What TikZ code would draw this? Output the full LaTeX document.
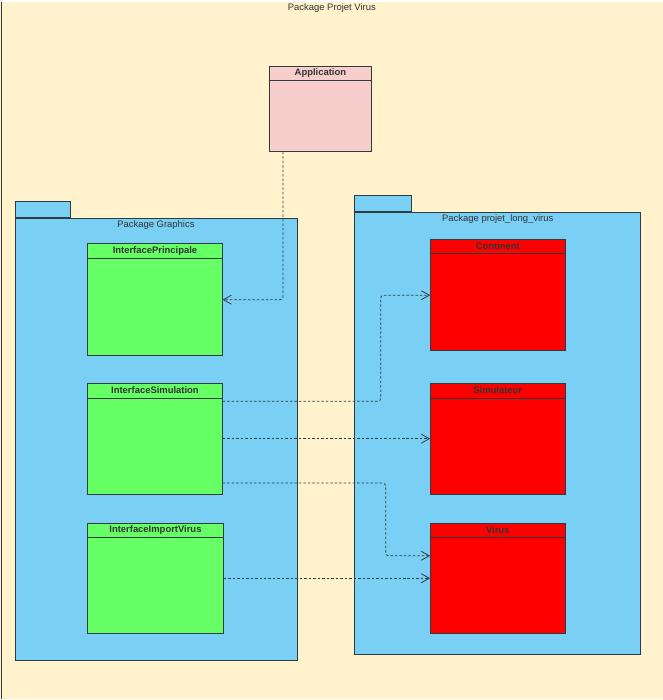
\documentclass[tikz,border=0pt]{standalone}
\usepackage{fontspec}
\setmainfont{Liberation Sans}
\usetikzlibrary{arrows.meta}

\definecolor{cream}{HTML}{FFF2CC}
\definecolor{pkgblue}{HTML}{7ACFF5}
\definecolor{clgreen}{HTML}{66FF66}
\definecolor{clred}{HTML}{FF0000}
\definecolor{clpink}{HTML}{F8CECC}
\definecolor{linegray}{HTML}{2E3B40}
\definecolor{textgray}{HTML}{333333}

\tikzset{
    classbox/.style={draw=linegray, line width=0.8bp, inner sep=0pt},
    classname/.style={font=\fontsize{9.5}{11}\selectfont\bfseries, text=textgray},
    pkgbox/.style={draw=linegray, line width=0.8bp, fill=pkgblue, inner sep=0pt},
    pkgname/.style={font=\fontsize{9.5}{11}\selectfont, text=textgray},
    dep/.style={draw=linegray, line width=0.8bp, dash pattern=on 2.5bp off 2bp,
        rounded corners=3bp, -{Straight Barb[length=8bp,width=9bp]}}
}

\begin{document}
\begin{tikzpicture}[x=1bp, y=-1bp]
    % background and frame
    \fill[cream] (0,0) rectangle (665,700);
    \draw[linegray, line width=1.4bp] (1.5,0) -- (1.5,700);
    \node[pkgname] (title) at (333,6) {Package Projet Virus};

    % packages
    \node[pkgbox, minimum width=283bp, minimum height=444bp] (pgraph) at (156.5,439) {};
    \node[pkgbox, minimum width=56bp, minimum height=16bp, anchor=south west] (pgraphtab) at (pgraph.north west) {};
    \node[pkgname, below] (pgraphname) at (pgraph.north) {Package Graphics};

    \node[pkgbox, minimum width=287bp, minimum height=444bp] (pvirus) at (499.5,433) {};
    \node[pkgbox, minimum width=57bp, minimum height=16bp, anchor=south west] (pvirustab) at (pvirus.north west) {};
    \node[pkgname, below] (pvirusname) at (pvirus.north) {Package projet\_long\_virus};

    % classes
    \node[classbox, fill=clpink, minimum width=103bp, minimum height=85bp] (appl) at (321.5,107.5) {};
    \draw[linegray] ([yshift=-14bp]appl.north west) -- ([yshift=-14bp]appl.north east);
    \node[classname] at ([yshift=-7bp]appl.north) {Application};

    \node[classbox, fill=clgreen, minimum width=135bp, minimum height=112bp] (iprin) at (155.5,299) {};
    \draw[linegray] ([yshift=-15bp]iprin.north west) -- ([yshift=-15bp]iprin.north east);
    \node[classname] at ([yshift=-7.5bp]iprin.north) {InterfacePrincipale};

    \node[classbox, fill=clgreen, minimum width=135bp, minimum height=111bp] (isim) at (155.5,438.5) {};
    \draw[linegray] ([yshift=-15bp]isim.north west) -- ([yshift=-15bp]isim.north east);
    \node[classname] at ([yshift=-7.5bp]isim.north) {InterfaceSimulation};

    \node[classbox, fill=clgreen, minimum width=136bp, minimum height=111bp] (iimp) at (156,578.5) {};
    \draw[linegray] ([yshift=-15bp]iimp.north west) -- ([yshift=-15bp]iimp.north east);
    \node[classname] at ([yshift=-7.5bp]iimp.north) {InterfaceImportVirus};

    \node[classbox, fill=clred, minimum width=135bp, minimum height=111bp] (cont) at (499.5,294.5) {};
    \draw[linegray] ([yshift=-14bp]cont.north west) -- ([yshift=-14bp]cont.north east);
    \node[classname] at ([yshift=-7bp]cont.north) {Continent};

    \node[classbox, fill=clred, minimum width=135bp, minimum height=111bp] (simu) at (499.5,438.5) {};
    \draw[linegray] ([yshift=-15bp]simu.north west) -- ([yshift=-15bp]simu.north east);
    \node[classname] at ([yshift=-7.5bp]simu.north) {Simulateur};

    \node[classbox, fill=clred, minimum width=135bp, minimum height=111bp] (virus) at (499.5,578.5) {};
    \draw[linegray] ([yshift=-15bp]virus.north west) -- ([yshift=-15bp]virus.north east);
    \node[classname] at ([yshift=-7.5bp]virus.north) {Virus};

    % dependencies
    \coordinate (kneecont) at (382,294.5);
    \coordinate (kneevirus) at (387,556);
    \draw[dep] ([xshift=-37.5bp]appl.south) |- (iprin.east);
    \draw[dep] ([yshift=37.5bp]isim.east) -| (kneecont) -- (cont.west);
    \draw[dep] (isim.east) -- (simu.west);
    \draw[dep] ([yshift=-44.5bp]isim.east) -| (kneevirus) -- ([yshift=22.5bp]virus.west);
    \draw[dep] (iimp.east) -- (virus.west);
\end{tikzpicture}
\end{document}
